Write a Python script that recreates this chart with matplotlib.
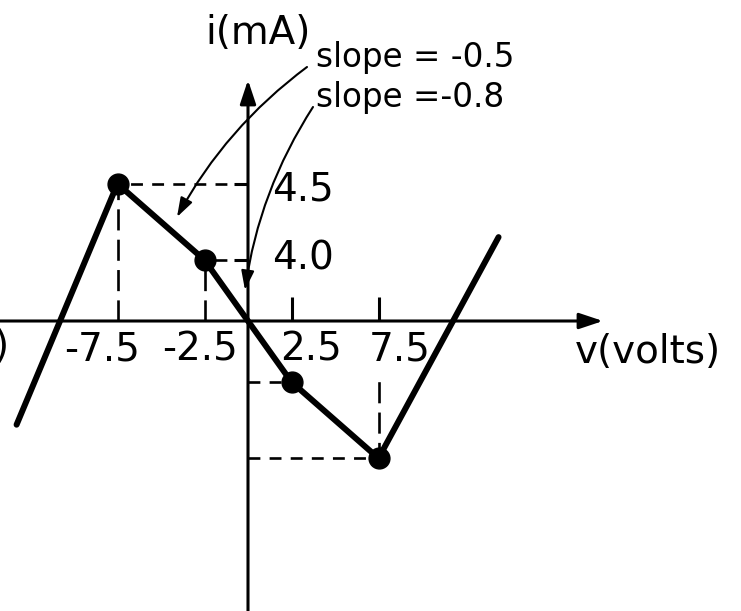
import numpy as np
import matplotlib
matplotlib.use("Agg")
import matplotlib.pyplot as plt

plt.rcParams["font.family"] = ["DejaVu Sans"]

# Breakpoints of the piecewise-linear i-v characteristic (volts, mA)
v_break = [-7.5, -2.5, 2.5, 7.5]
i_break = [4.5, 4.0, -4.0, -4.5]
# Where the two outer (positive-slope) branches run off the sketch
v_outer = [-13.3, 14.4]
i_outer = [-4.28, 4.15]

v_tick_labels = ["-7.5", "-2.5", "2.5", "7.5"]
i_tick_vals = [4.5, 4.0]
i_tick_labels = ["4.5", "4.0"]
slope_labels = ["slope = -0.5", "slope =-0.8"]

# The current axis is sketched, not to scale: the band between the
# two labelled levels is stretched.
i_knots = [-100.0, -4.5, -4.0, 4.0, 4.5, 100.0]
y_knots = [-100.0, -4.5, -2.0, 2.0, 4.5, 100.0]


def fwd(y):
    return np.interp(y, i_knots, y_knots)


def inv(y):
    return np.interp(y, y_knots, i_knots)


W, H = 741, 611


def px(x, y):
    """Figure pixel (from top-left) -> axes fraction."""
    return (x / W, 1 - y / H)


fig = plt.figure(figsize=(W / 100, H / 100), dpi=100)
ax = fig.add_axes([0, 0, 1, 1])
ax.set_yscale("function", functions=(fwd, inv))
ax.set_xlim(-248 / 17.4, (W - 248) / 17.4)
ax.set_ylim(-290 / 30.5, 321 / 30.5)
ax.axis("off")

ink = "black"

# coordinate axes with arrow heads
axis_arrow = dict(arrowstyle="-|>,head_length=0.9,head_width=0.3", lw=2.2,
                  color=ink, shrinkA=0, shrinkB=0, mutation_scale=16)
ax.annotate("", xy=(20.4, 0), xytext=(-16, 0), arrowprops=axis_arrow,
            zorder=3, annotation_clip=False)
ax.annotate("", xy=(0, 7.9), xytext=(0, -12), arrowprops=axis_arrow,
            zorder=3, annotation_clip=False)

# characteristic curve
v_curve = [v_outer[0]] + v_break + [v_outer[1]]
i_curve = [i_outer[0]] + i_break + [i_outer[1]]
ax.plot(v_curve, i_curve, color=ink, lw=4.3, solid_capstyle="round",
        solid_joinstyle="round", zorder=4)
ax.plot(v_break, i_break, "o", color=ink, ms=15, zorder=5)

# dashed projections of the breakpoints onto both axes
for v, i in zip(v_break, i_break):
    ax.plot([0, v], [i, i], color=ink, lw=1.9, ls=(0, (4.5, 3.5)), zorder=1)
    ax.plot([v, v], [0, i], color=ink, lw=1.9, ls=(0, (8, 3.5)), zorder=1)

# short tick marks
v_pos = [v for v in v_break if v > 0]
ax.plot(v_pos, [0] * len(v_pos), ls="none", marker=2, ms=17, mew=2.2,
        color=ink, zorder=3)
ax.plot([0] * len(i_tick_vals), i_tick_vals, ls="none", marker=0, ms=10,
        mew=2.2, color=ink, zorder=3)

# tick labels
x_label_shift = [-15.5, -4.5, 19.5, 21.5]
for v, lab, dx in zip(v_break, v_tick_labels, x_label_shift):
    ax.annotate(lab, xy=(v, 0), xytext=(dx, -29), textcoords="offset pixels",
                ha="center", va="center", fontsize=28, zorder=2,
                bbox=dict(boxstyle="square,pad=0.25", fc="white", ec="none"))
for val, lab, dy in zip(i_tick_vals, i_tick_labels, [-6, 1]):
    ax.annotate(lab, xy=(0, val), xytext=(24, dy), textcoords="offset pixels",
                ha="left", va="center", fontsize=28, zorder=2)

# axis titles
ax.text(*px(205, 33), "i(mA)", transform=ax.transAxes, ha="left",
        va="center", fontsize=28)
ax.text(*px(575, 352), "v(volts)", transform=ax.transAxes, ha="left",
        va="center", fontsize=28)
ax.text(*px(9, 347), ")", transform=ax.transAxes, ha="right",
        va="center", fontsize=28)

# slope call-outs
for lab, y in zip(slope_labels, [57, 97]):
    ax.text(*px(316, y), lab, transform=ax.transAxes, ha="left",
            va="center", fontsize=23.5)

callout = dict(arrowstyle="-|>,head_length=0.9,head_width=0.3", lw=1.5,
               color=ink, shrinkA=0, shrinkB=0, mutation_scale=13,
               connectionstyle="arc3,rad=0.11")
ax.annotate("", xy=px(177, 217), xytext=px(307, 67), xycoords="axes fraction",
            arrowprops=callout, zorder=3)
ax.annotate("", xy=px(245, 290), xytext=px(313, 107), xycoords="axes fraction",
            arrowprops=callout, zorder=3)

fig.savefig("out.png", dpi=100, facecolor="white")
